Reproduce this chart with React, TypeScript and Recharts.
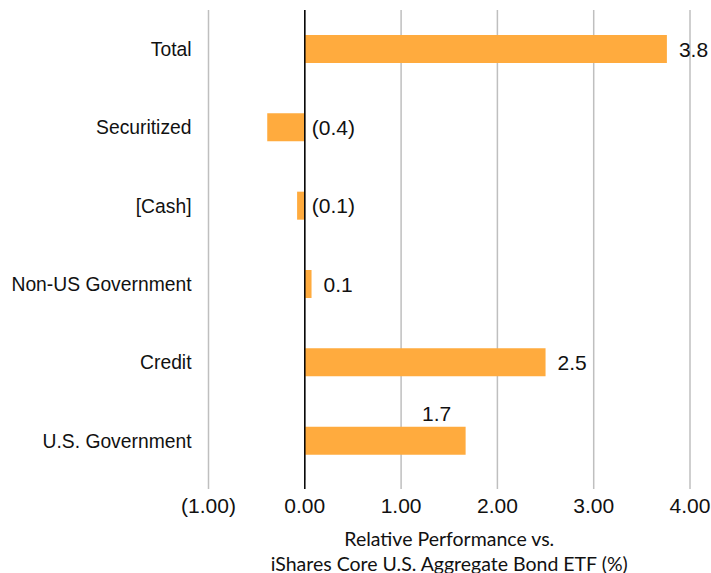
import React from "react";
import { Bar, BarChart, CartesianGrid, Label, LabelList, ReferenceLine, XAxis, YAxis } from "recharts";

// sectors, top to bottom
const sectors = ["Total", "Securitized", "[Cash]", "Non-US Government", "Credit", "U.S. Government"];
// relative performance (%)
const relPerf = [3.76, -0.39, -0.08, 0.07, 2.5, 1.67];
const xTicks = [-1, 0, 1, 2, 3, 4];
const titleLines = ["Relative Performance vs.", "iShares Core U.S. Aggregate Bond ETF (%)"];

const data = sectors.map((name, i) => ({ name, value: relPerf[i] }));

const ARIAL = "'Liberation Sans', Arial, sans-serif";
const GRID = "#bfbfbf";
const BAR = "#FFAB3E";

const fmt = (v: number, d: number) => (v < 0 ? `(${Math.abs(v).toFixed(d)})` : v.toFixed(d));

function XTick({ x, y, payload }: any) {
  const v = payload.value as number;
  return (
    <g>
      <line x1={x} x2={x} y1={y} y2={y + 9} stroke={v === 0 ? "#000" : GRID} strokeWidth={1.5} />
      <text x={x} y={y + 18} dy="0.71em" textAnchor="middle" fontFamily={ARIAL} fontSize={21} fill="#111">
        {fmt(v, 2)}
      </text>
    </g>
  );
}

function ValueLabel({ x, y, width, height, value, index }: any) {
  const right = Math.max(x, x + width);
  const cy = y + height / 2;
  const text = fmt(value, 1);
  // Excel put the U.S. Government label above its bar
  if (sectors[index] === "U.S. Government") {
    return (
      <text x={right - 29} y={y - 6} textAnchor="middle" fontFamily={ARIAL} fontSize={21} fill="#111">
        {text}
      </text>
    );
  }
  const tx = value < 0 ? right + 7 : right + 12;
  return (
    <text x={tx} y={cy} dy="0.36em" textAnchor="start" fontFamily={ARIAL} fontSize={21} fill="#111">
      {text}
    </text>
  );
}

function AxisTitle({ viewBox }: any) {
  const cx = viewBox.x + viewBox.width / 2;
  return (
    <g fontFamily="Lato, 'Open Sans', sans-serif" fontSize={19.5} fill="#111" textAnchor="middle">
      <text x={cx} y={viewBox.y + 66}>{titleLines[0]}</text>
      <text x={cx} y={viewBox.y + 91}>{titleLines[1]}</text>
    </g>
  );
}

export default function App() {
  return (
    <div style={{ position: "absolute", left: 0, top: 0, width: 711, height: 573, background: "#fff" }}>
      <BarChart
        width={711}
        height={573}
        data={data}
        layout="vertical"
        barSize={28}
        margin={{ top: 10, right: 21, bottom: 0, left: 0 }}
      >
        <CartesianGrid horizontal={false} stroke={GRID} strokeWidth={1.5} />
        <XAxis
          type="number"
          domain={[-1, 4]}
          ticks={xTicks}
          allowDataOverflow
          axisLine={false}
          tickLine={false}
          tickSize={0}
          tickMargin={0}
          height={93}
          tick={<XTick />}
        >
          <Label content={(p: any) => <AxisTitle {...p} />} />
        </XAxis>
        <YAxis
          type="category"
          dataKey="name"
          width={208.5}
          axisLine={false}
          tickLine={false}
          tickSize={0}
          tickMargin={17}
          tick={{ fontFamily: ARIAL, fontSize: 19.3, fill: "#111" }}
        />
        <Bar dataKey="value" fill={BAR} isAnimationActive={false}>
          <LabelList dataKey="value" content={(p: any) => <ValueLabel {...p} />} />
        </Bar>
        <ReferenceLine x={0} stroke="#000" strokeWidth={1.5} />
      </BarChart>
    </div>
  );
}
